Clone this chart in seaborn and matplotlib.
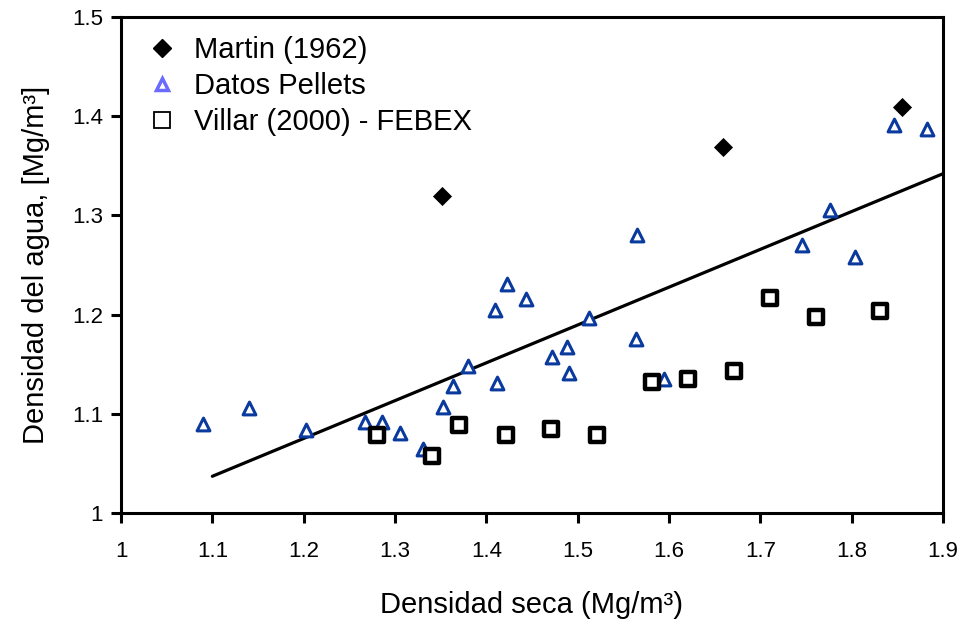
import matplotlib
matplotlib.use("Agg")
import matplotlib.pyplot as plt
import seaborn as sns
from matplotlib.lines import Line2D

# Martin (1962)
martin_x = [1.352, 1.659, 1.855]
martin_y = [1.320, 1.369, 1.409]

# Datos Pellets
pellets_x = [1.090, 1.140, 1.203, 1.267, 1.286, 1.305, 1.331, 1.353, 1.363, 1.380,
             1.412, 1.409, 1.423, 1.443, 1.472, 1.488, 1.491, 1.512, 1.564, 1.565,
             1.595, 1.746, 1.776, 1.804, 1.846, 1.882]
pellets_y = [1.090, 1.106, 1.084, 1.092, 1.092, 1.081, 1.065, 1.107, 1.128, 1.148,
             1.131, 1.205, 1.231, 1.216, 1.157, 1.167, 1.141, 1.197, 1.175, 1.280,
             1.135, 1.270, 1.305, 1.258, 1.391, 1.387]

# Villar (2000) - FEBEX
villar_x = [1.280, 1.340, 1.370, 1.421, 1.471, 1.521, 1.581, 1.621, 1.671, 1.711, 1.761, 1.831]
villar_y = [1.079, 1.057, 1.089, 1.079, 1.085, 1.079, 1.132, 1.135, 1.143, 1.217, 1.198, 1.204]

# linear fit line
trend_x = [1.10, 1.90]
trend_y = [1.037, 1.342]

sns.set_style("white")
plt.rcParams['font.family'] = ['Liberation Sans', 'DejaVu Sans']
plt.rcParams['text.color'] = 'black'
plt.rcParams['axes.labelcolor'] = 'black'

fig = plt.figure(figsize=(9.62, 6.2), dpi=100)
ax = fig.add_axes([0.1258, 0.1726, 0.8544, 0.8])

sns.lineplot(x=trend_x, y=trend_y, color="black", linewidth=2.3, ax=ax)
sns.scatterplot(x=pellets_x, y=pellets_y, marker="^", s=85, facecolor="white",
                edgecolor="#0a3a9e", linewidth=2.2, ax=ax, zorder=3)
sns.scatterplot(x=villar_x, y=villar_y, marker="s", s=95, facecolor="white",
                edgecolor="black", linewidth=3.2, ax=ax, zorder=4)
sns.scatterplot(x=martin_x, y=martin_y, marker="D", s=95, color="black",
                edgecolor="black", linewidth=0, ax=ax, zorder=5)

ax.set_xlim(1, 1.9)
ax.set_ylim(1, 1.5)
ax.set_xticks([1, 1.1, 1.2, 1.3, 1.4, 1.5, 1.6, 1.7, 1.8, 1.9])
ax.set_xticklabels(["1", "1.1", "1.2", "1.3", "1.4", "1.5", "1.6", "1.7", "1.8", "1.9"])
ax.set_yticks([1, 1.1, 1.2, 1.3, 1.4, 1.5])
ax.set_yticklabels(["1", "1.1", "1.2", "1.3", "1.4", "1.5"])
ax.tick_params(axis="both", direction="out", length=7, width=2.2, labelsize=16,
               colors="black", bottom=True, left=True)
ax.tick_params(axis="x", pad=13)
ax.tick_params(axis="y", pad=6)
for sp in ax.spines.values():
    sp.set_color("black")
    sp.set_linewidth(2.2)

ax.set_xlabel("Densidad seca (Mg/m³)", fontsize=21, labelpad=21)
ax.set_ylabel("Densidad del agua, [Mg/m³]", fontsize=21, labelpad=16)

handles = [
    Line2D([], [], marker="D", linestyle="none", color="black", markersize=9),
    Line2D([], [], marker="^", linestyle="none", markerfacecolor="white",
           markeredgecolor="#6b6bff", markeredgewidth=2.5, markersize=8),
    Line2D([], [], marker="s", linestyle="none", markerfacecolor="white",
           markeredgecolor="black", markeredgewidth=1.3, markersize=11),
]
ax.legend(handles, ["Martin (1962)", "Datos Pellets", "Villar (2000) - FEBEX"],
          loc="upper left", frameon=False, fontsize=21, handletextpad=0.35,
          labelspacing=0.28, borderaxespad=0.25, handlelength=1.5,
          borderpad=0.4)

fig.savefig("out.png", dpi=100)
